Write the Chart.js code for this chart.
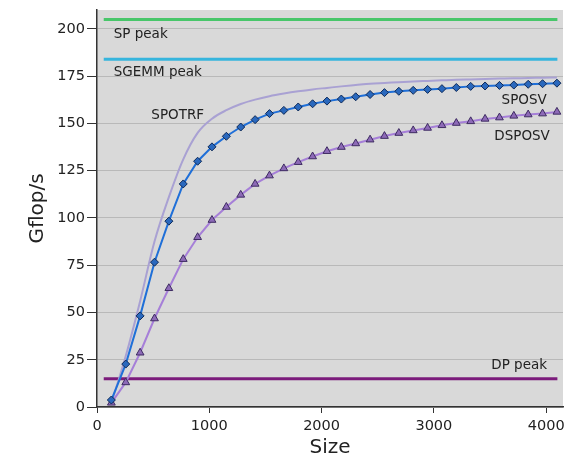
<!DOCTYPE html>
<html>
<head>
<meta charset="utf-8">
<script src="https://cdn.jsdelivr.net/npm/chart.js@4"></script>
<style>
  html, body { margin: 0; padding: 0; background: #fff; }
  #wrap { width: 565px; height: 457px; }
</style>
</head>
<body>
<div id="wrap"><canvas id="chart" width="565" height="457"></canvas></div>
<script>
// Matrix sizes (x axis)
const sizes = [128, 256, 384, 512, 640, 768, 896, 1024, 1152, 1280, 1408, 1536, 1664, 1792, 1920, 2048,
               2176, 2304, 2432, 2560, 2688, 2816, 2944, 3072, 3200, 3328, 3456, 3584, 3712, 3840, 3968, 4096];

// Gflop/s per routine
const sposv = [3.7, 22.7, 48.2, 76.6, 98.3, 118, 130, 137.6, 143.2, 148.1, 152, 155.2, 156.9, 158.7, 160.4, 161.8,
               162.9, 164.1, 165.3, 166.3, 167, 167.5, 168, 168.4, 169, 169.6, 169.8, 170.1, 170.3, 170.7, 171, 171.3];
const dsposv = [2.2, 13, 28.7, 46.8, 62.8, 78.2, 89.8, 98.9, 105.8, 112.2, 118, 122.4, 126.2, 129.5, 132.5, 135.3,
                137.5, 139.4, 141.4, 143.3, 144.9, 146.3, 147.6, 149, 150.2, 151.1, 152.4, 153.1, 154, 154.7, 155.2, 156.1];
const spotrf = [2, 27, 56, 87.5, 111, 131, 145, 152.5, 157, 160.3, 162.6, 164.4, 165.8, 167, 168, 168.8,
                169.6, 170.3, 171, 171.4, 171.8, 172.2, 172.5, 172.8, 173.1, 173.3, 173.5, 173.7, 173.9, 174, 174.2, 174.3];

// Peak levels, drawn as flat lines
const peakSpan = [60, 4100];
const spPeak = 205;
const sgemmPeak = 184;
const dpPeak = 15;

// Tick values
const xTicks = [0, 1000, 2000, 3000, 4000];
const yTicks = [0, 25, 50, 75, 100, 125, 150, 175, 200];

// Curve labels, anchored at data coordinates (left edge, vertical middle)
const labelTexts = ['SP peak', 'SGEMM peak', 'SPOTRF', 'SPOSV', 'DSPOSV', 'DP peak'];
const labelX = [149, 149, 484, 3603, 3538, 3511];
const labelY = [197, 177, 154, 162, 143, 22.2];

const FONT = "'DejaVu Sans', Verdana, sans-serif";

function pts(xs, ys) {
    return xs.map((x, i) => ({ x: x, y: ys[i] }));
}
function flat(v) {
    return peakSpan.map(x => ({ x: x, y: v }));
}

// grey plot area behind the grid
const plotBg = {
    id: 'plotBg',
    beforeDraw(chart) {
        const { ctx, chartArea: a } = chart;
        ctx.save();
        ctx.fillStyle = '#d9d9d9';
        ctx.fillRect(a.left, a.top, a.right - a.left, a.bottom - a.top);
        ctx.restore();
    }
};

// text labels next to the curves
const curveLabels = {
    id: 'curveLabels',
    afterDatasetsDraw(chart) {
        const ctx = chart.ctx;
        const xs = chart.scales.x, ys = chart.scales.y;
        ctx.save();
        ctx.font = '13.5px ' + FONT;
        ctx.fillStyle = '#222';
        ctx.textAlign = 'left';
        ctx.textBaseline = 'middle';
        labelTexts.forEach((t, i) => {
            ctx.fillText(t, xs.getPixelForValue(labelX[i]), ys.getPixelForValue(labelY[i]));
        });
        ctx.restore();
    }
};

new Chart(document.getElementById('chart').getContext('2d'), {
    type: 'line',
    data: {
        datasets: [
            {
                label: 'SPOSV',
                data: pts(sizes, sposv),
                borderColor: '#1f6fd8',
                borderWidth: 2,
                pointStyle: 'rectRot',
                pointRadius: 4,
                pointBackgroundColor: '#2a68bd',
                pointBorderColor: '#0e2a58',
                pointBorderWidth: 1,
                tension: 0,
                clip: false
            },
            {
                label: 'DSPOSV',
                data: pts(sizes, dsposv),
                borderColor: '#a67fd8',
                borderWidth: 2,
                pointStyle: 'triangle',
                pointRadius: 4.5,
                pointBackgroundColor: '#8d6ab7',
                pointBorderColor: '#3e2b62',
                pointBorderWidth: 1,
                tension: 0,
                clip: false
            },
            {
                label: 'SPOTRF',
                data: pts(sizes, spotrf),
                borderColor: '#a9a1d3',
                borderWidth: 2,
                pointRadius: 0,
                cubicInterpolationMode: 'monotone'
            },
            {
                label: 'SP peak',
                data: flat(spPeak),
                borderColor: '#48c66a',
                borderWidth: 3,
                pointRadius: 0
            },
            {
                label: 'SGEMM peak',
                data: flat(sgemmPeak),
                borderColor: '#36b5dd',
                borderWidth: 3,
                pointRadius: 0
            },
            {
                label: 'DP peak',
                data: flat(dpPeak),
                borderColor: '#7b1b7b',
                borderWidth: 3,
                pointRadius: 0
            }
        ]
    },
    options: {
        responsive: false,
        animation: false,
        layout: { autoPadding: false, padding: { top: 10, right: 2, left: 0, bottom: 0 } },
        plugins: {
            legend: { display: false },
            tooltip: { enabled: false }
        },
        scales: {
            x: {
                type: 'linear',
                min: 0,
                max: 4150,
                afterBuildTicks: s => { s.ticks = xTicks.map(v => ({ value: v })); },
                afterFit: s => { s.height = 50; s.paddingLeft = 0; s.paddingRight = 0; },
                ticks: {
                    color: '#222',
                    padding: 5,
                    font: { family: FONT, size: 14.5 },
                    callback: v => String(v)
                },
                grid: { drawOnChartArea: false, drawTicks: true, tickLength: 6, tickColor: '#333' },
                border: { color: '#333', width: 1.5 },
                title: {
                    display: true,
                    text: 'Size',
                    color: '#222',
                    padding: 0,
                    font: { family: FONT, size: 20, lineHeight: 0.9 }
                }
            },
            y: {
                min: 0,
                max: 210,
                afterBuildTicks: s => { s.ticks = yTicks.map(v => ({ value: v })); },
                afterFit: s => { s.width = 97; s.paddingTop = 0; s.paddingBottom = 0; },
                ticks: {
                    color: '#222',
                    padding: 2,
                    font: { family: FONT, size: 14.5 },
                    callback: v => String(v)
                },
                grid: { color: '#b9b9b9', lineWidth: 1, tickLength: 10, tickColor: '#333' },
                border: { color: '#333', width: 1.5 },
                title: {
                    display: true,
                    text: 'Gflop/s',
                    color: '#222',
                    padding: { top: 26, bottom: 0 },
                    font: { family: FONT, size: 20 }
                }
            }
        }
    },
    plugins: [plotBg, curveLabels]
});
</script>
</body>
</html>
